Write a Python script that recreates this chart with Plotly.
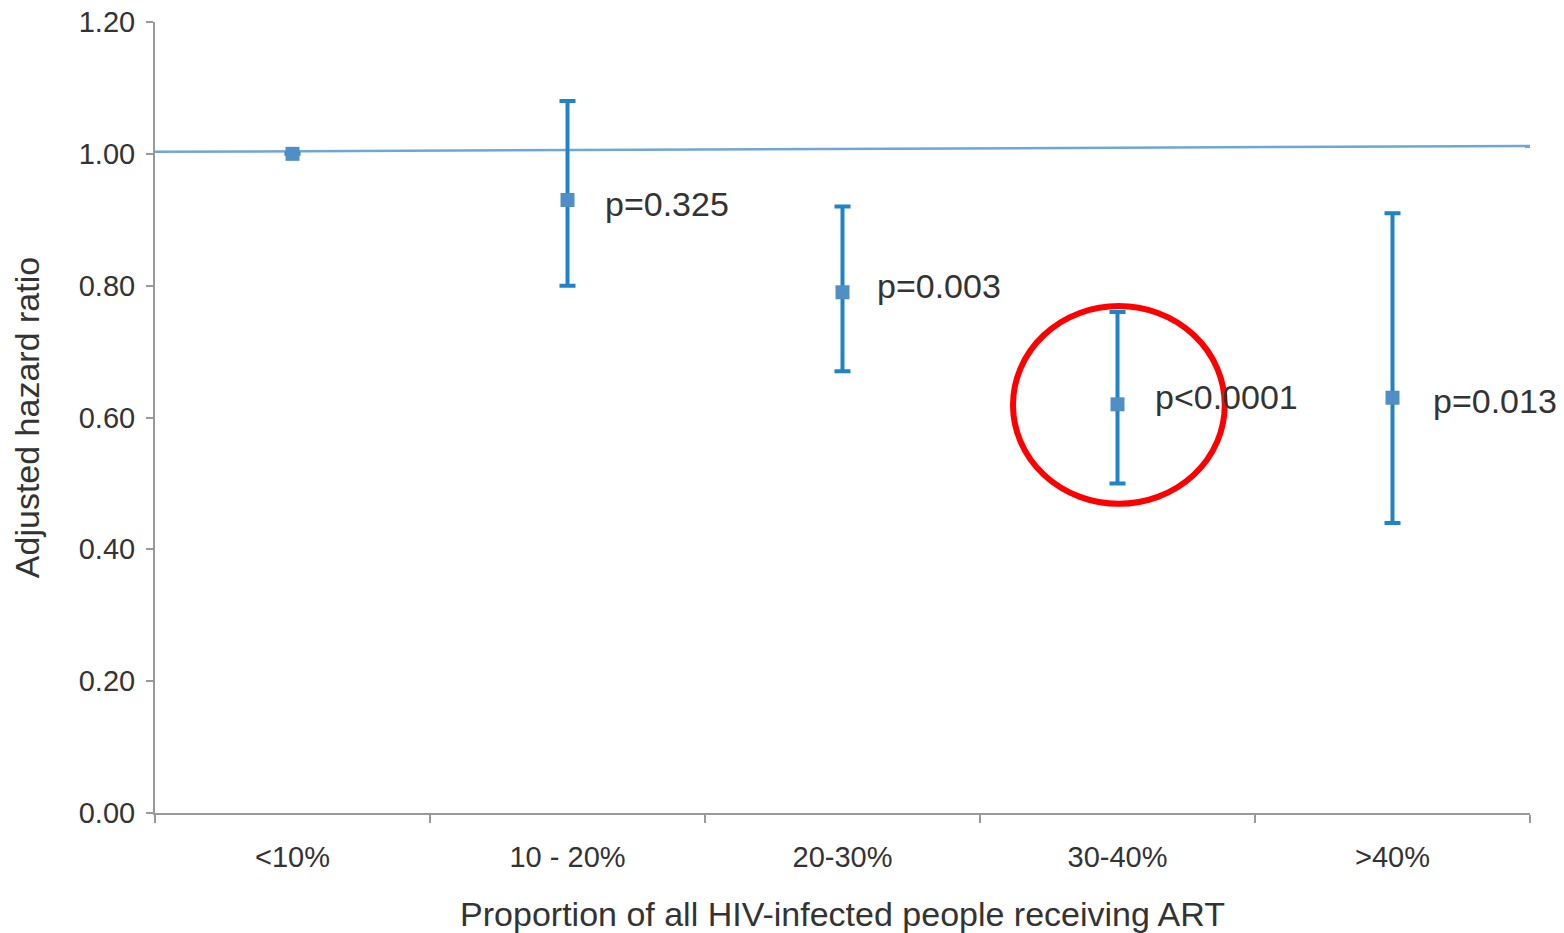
import plotly.graph_objects as go

categories = ["<10%", "10 - 20%", "20-30%", "30-40%", ">40%"]
hazard_ratio = [1.00, 0.93, 0.79, 0.62, 0.63]
ci_upper = [None, 1.08, 0.92, 0.76, 0.91]
ci_lower = [None, 0.80, 0.67, 0.50, 0.44]
p_labels = ["", "p=0.325", "p=0.003", "p<0.0001", "p=0.013"]
ref_line = [1.003, 1.012]
highlight_category = "30-40%"
y_ticks = [0.0, 0.2, 0.4, 0.6, 0.8, 1.0, 1.2]

# label placement (pixel offsets from each point)
label_dx = [0, 35, 32, 35, 38]
label_dy = [0, -4, 6, 7, -3]

err_plus = [None if u is None else u - v for u, v in zip(ci_upper, hazard_ratio)]
err_minus = [None if l is None else v - l for l, v in zip(ci_lower, hazard_ratio)]

FONT = "Liberation Sans, Arial, Helvetica, sans-serif"

fig = go.Figure()
fig.add_trace(go.Scatter(
    x=categories, y=hazard_ratio, mode="markers",
    marker=dict(symbol="square", size=14, color="#4f8fc6"),
    error_y=dict(type="data", symmetric=False, array=err_plus, arrayminus=err_minus,
                 color="#2183c6", thickness=4, width=8),
    showlegend=False, hoverinfo="x+y",
))

# reference line across the plot
fig.add_shape(type="line", xref="x domain", yref="y", x0=0, x1=1,
              y0=ref_line[0], y1=ref_line[1],
              line=dict(color="#6fa6d8", width=2.5), layer="below")

for c, v, t, dx, dy in zip(categories, hazard_ratio, p_labels, label_dx, label_dy):
    if t:
        fig.add_annotation(x=c, y=v, text=t, showarrow=False, xanchor="left",
                           xshift=dx, yshift=dy,
                           font=dict(size=34, color="#333333", family=FONT))

# red highlight ellipse around the highlighted category
hi = categories.index(highlight_category)
hv = hazard_ratio[hi]
fig.add_shape(type="circle", xref="x", yref="y",
              x0=hi - 0.38, x1=hi + 0.39, y0=hv - 0.151, y1=hv + 0.149,
              line=dict(color="#ff0000", width=6), layer="above")

fig.update_layout(
    width=1564, height=933,
    margin=dict(l=155, r=34, t=22, b=120),
    paper_bgcolor="white", plot_bgcolor="white",
    font=dict(family=FONT, color="#333333"),
    xaxis=dict(
        type="category", range=[-0.5, 4.5], tickson="boundaries",
        ticks="outside", ticklen=8, tickwidth=1.5, tickcolor="#999999",
        showline=True, linecolor="#999999", linewidth=2,
        showgrid=False, zeroline=False, automargin=False,
        ticklabelstandoff=17,
        tickfont=dict(size=29, color="#333333"),
        title=dict(text="Proportion of all HIV-infected people receiving ART",
                   font=dict(size=34, color="#333333"), standoff=30),
    ),
    yaxis=dict(
        range=[0, 1.2], tickvals=y_ticks, tickformat=".2f",
        ticks="outside", ticklen=7, tickwidth=1.5, tickcolor="#999999",
        showline=True, linecolor="#999999", linewidth=2,
        showgrid=False, zeroline=False, automargin=False,
        ticklabeloverflow="allow", ticklabelstandoff=5,
        tickfont=dict(size=29, color="#333333"),
        title=dict(text="Adjusted hazard ratio",
                   font=dict(size=34, color="#333333"), standoff=29),
    ),
)

fig.write_html("out.html",
               config={"displayModeBar": False},
               post_script="document.body.style.margin='0';document.body.style.overflow='hidden';")
